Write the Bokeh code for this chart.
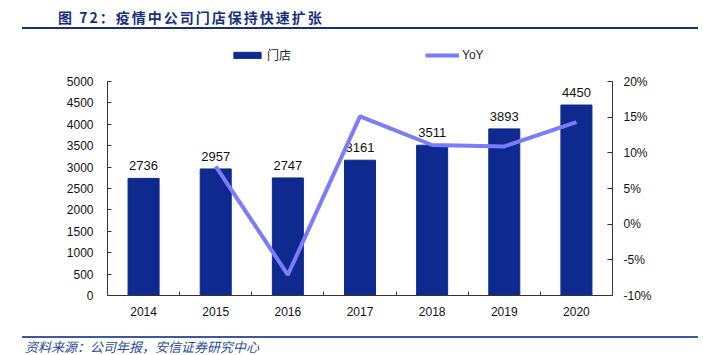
from bokeh.plotting import figure
from bokeh.models import (Range1d, LinearAxis, FixedTicker, NumeralTickFormatter,
                          Legend, LegendItem, Div)
from bokeh.layouts import column
from bokeh.embed import file_html
from bokeh.resources import INLINE
from bokeh.core.properties import value

# ---- data ----
years = ["2014", "2015", "2016", "2017", "2018", "2019", "2020"]
stores = [2736, 2957, 2747, 3161, 3511, 3893, 4450]
yoy_years = ["2015", "2016", "2017", "2018", "2019", "2020"]
yoy = [0.081, -0.071, 0.151, 0.111, 0.109, 0.143]
left_ticks = [0, 500, 1000, 1500, 2000, 2500, 3000, 3500, 4000, 4500, 5000]
right_ticks = [-0.10, -0.05, 0.0, 0.05, 0.10, 0.15, 0.20]

title_text = "图 72：疫情中公司门店保持快速扩张"
source_text = "资料来源：公司年报，安信证券研究中心"
bar_name = "门店"
line_name = "YoY"

BAR = "#0f2a8e"
LINE = "#7b7bfb"
FONT = "Liberation Sans"
W = 703
NAN = float("nan")

xs = list(range(len(years)))
yoy_x = [years.index(y) for y in yoy_years]

title_div = Div(
    text=(
        '<div style="position:relative;width:703px;height:36px;">'
        '<div style="position:absolute;left:58px;top:8px;font-family:\'Noto Sans CJK SC\';'
        'font-weight:bold;font-size:14px;line-height:18px;color:#17307f;letter-spacing:2px;'
        'white-space:nowrap">' + title_text + '</div>'
        '<div style="position:absolute;left:22px;top:27px;width:676px;height:0;'
        'border-top:2px solid #14307f"></div></div>'
    ),
    width=W, height=36, margin=(0, 0, 0, 0),
)

# ---- legend strip (frame aligned with main chart's frame) ----
pl = figure(width=W, height=34, x_range=Range1d(0, 1), y_range=Range1d(0, 1),
            output_backend="svg", toolbar_location=None,
            x_axis_location=None, y_axis_location=None,
            min_border_left=107, min_border_right=91, min_border_top=0, min_border_bottom=0)
pl.outline_line_color = None
pl.grid.visible = False
lb = pl.vbar(x=[NAN], top=[NAN], width=0.4, fill_color=BAR, line_color=BAR)
ll = pl.line(x=[NAN, NAN], y=[NAN, NAN], line_color=LINE, line_width=4)
legend = Legend(items=[LegendItem(label=bar_name, renderers=[lb]),
                       LegendItem(label=line_name, renderers=[ll])],
                location=(123, 7), orientation="horizontal", spacing=134,
                glyph_width=34, glyph_height=8, label_standoff=3, padding=0, margin=0,
                border_line_color=None, background_fill_alpha=0,
                label_text_font_size="12px",
                label_text_font="'Liberation Sans', 'Noto Sans CJK SC'",
                label_text_color="#222222", label_height=14)
pl.add_layout(legend)

# ---- main chart ----
p = figure(width=W, height=258, x_range=Range1d(-0.5, 6.5), y_range=Range1d(0, 5000),
           output_backend="svg", toolbar_location=None,
           min_border_left=107, min_border_right=91, min_border_top=11, min_border_bottom=33)
p.outline_line_color = None
p.xgrid.visible = False
p.ygrid.visible = False

p.extra_y_ranges = {"yoy": Range1d(-0.10, 0.20)}

p.vbar(x=xs, top=stores, width=0.43, fill_color=BAR, line_color=BAR)
p.text(x=xs, y=stores, text=[str(s) for s in stores], text_align="center",
       text_baseline="bottom", y_offset=-8, text_font=value(FONT),
       text_font_size="13px", text_color="#111111")
p.line(x=yoy_x, y=yoy, y_range_name="yoy", line_color=LINE, line_width=4)

# x axis
xa = p.xaxis[0]
xa.ticker = FixedTicker(ticks=xs, minor_ticks=[i - 0.5 for i in range(len(years) + 1)])
xa.major_label_overrides = {i: y for i, y in enumerate(years)}
xa.major_tick_in = 0
xa.major_tick_out = 0
xa.minor_tick_in = 4
xa.minor_tick_out = 0
xa.minor_tick_line_color = "#333333"
xa.axis_line_color = "#333333"
xa.major_label_standoff = 11
xa.major_label_text_font = FONT
xa.major_label_text_font_size = "12px"
xa.major_label_text_color = "#111111"

# left axis
ya = p.yaxis[0]
ya.ticker = FixedTicker(ticks=left_ticks)
ya.major_tick_in = 4
ya.major_tick_out = 0
ya.minor_tick_line_color = None
ya.axis_line_color = "#333333"
ya.major_tick_line_color = "#333333"
ya.major_label_standoff = 14
ya.major_label_text_font = FONT
ya.major_label_text_font_size = "12px"
ya.major_label_text_color = "#111111"

# right axis
ra = LinearAxis(y_range_name="yoy", ticker=FixedTicker(ticks=right_ticks),
                formatter=NumeralTickFormatter(format="0%"))
ra.major_tick_in = 5
ra.major_tick_out = 0
ra.minor_tick_line_color = None
ra.axis_line_color = "#333333"
ra.major_tick_line_color = "#333333"
ra.major_label_standoff = 11
ra.major_label_text_font = FONT
ra.major_label_text_font_size = "12px"
ra.major_label_text_color = "#111111"
p.add_layout(ra, "right")

footer_div = Div(
    text=(
        '<div style="position:relative;width:703px;height:27px;">'
        '<div style="position:absolute;left:22px;top:8px;width:676px;height:0;'
        'border-top:2px solid #3a58a3"></div>'
        '<div style="position:absolute;left:25px;top:12px;font-family:\'Noto Sans CJK SC\';'
        'font-style:italic;font-size:13px;line-height:14px;color:#2a4a9c;'
        'white-space:nowrap">' + source_text + '</div></div>'
    ),
    width=W, height=27, margin=(0, 0, 0, 0),
)

layout = column(title_div, pl, p, footer_div, spacing=0)
open("out.html", "w").write(file_html(layout, INLINE))
